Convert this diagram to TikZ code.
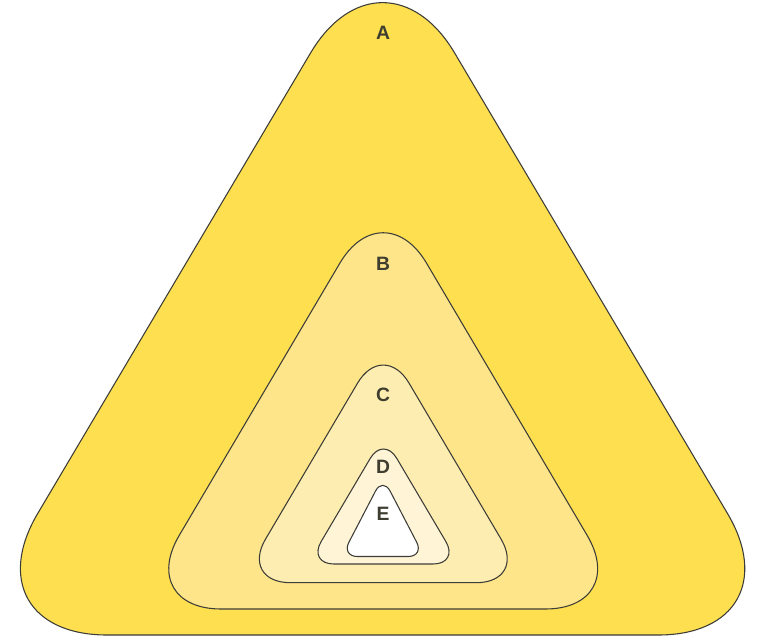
\documentclass[tikz,border=0pt]{standalone}
\usepackage{fontspec}
\setmainfont{Liberation Sans}
\definecolor{edge}{HTML}{3C3C38}
\definecolor{ink}{HTML}{3F3D30}
\definecolor{fillA}{HTML}{FEDF50}
\definecolor{fillB}{HTML}{FEE589}
\definecolor{fillC}{HTML}{FEEDB0}
\definecolor{fillD}{HTML}{FFF4D6}
\definecolor{fillE}{HTML}{FFFFFF}

\begin{document}
\begin{tikzpicture}[x=0.75pt,y=-0.75pt,
 level/.style={draw=edge,line width=.8pt,line join=round},
 lbl/.style={font=\fontsize{14.5}{17}\selectfont\bfseries,text=ink,inner sep=0pt}]
\useasboundingbox (0,0) rectangle (757,636);

% nested rounded triangles, outer first
\draw[level,fill=fillA,rounded corners=106pt] (382.6,-68.6) -- (799.5,635) -- (-34.3,635) -- cycle;
\draw[level,fill=fillB,rounded corners=64pt] (383.2,189.7) -- (630.6,609) -- (135.8,609) -- cycle;
\draw[level,fill=fillC,rounded corners=38pt] (383.3,339.5) -- (526.8,582.7) -- (239.8,582.7) -- cycle;
\draw[level,fill=fillD,rounded corners=19.5pt] (383.5,435.9) -- (459.1,564) -- (307.9,564) -- cycle;
\draw[level,fill=fillE,rounded corners=12pt] (382.8,477) -- (424.1,556.5) -- (341.5,556.5) -- cycle;

\node[lbl] (la) at (383,33) {A};
\node[lbl] (lb) at (383,264) {B};
\node[lbl] (lc) at (383,395) {C};
\node[lbl] (ld) at (383,467) {D};
\node[lbl] (le) at (383,514) {E};
\end{tikzpicture}
\end{document}
